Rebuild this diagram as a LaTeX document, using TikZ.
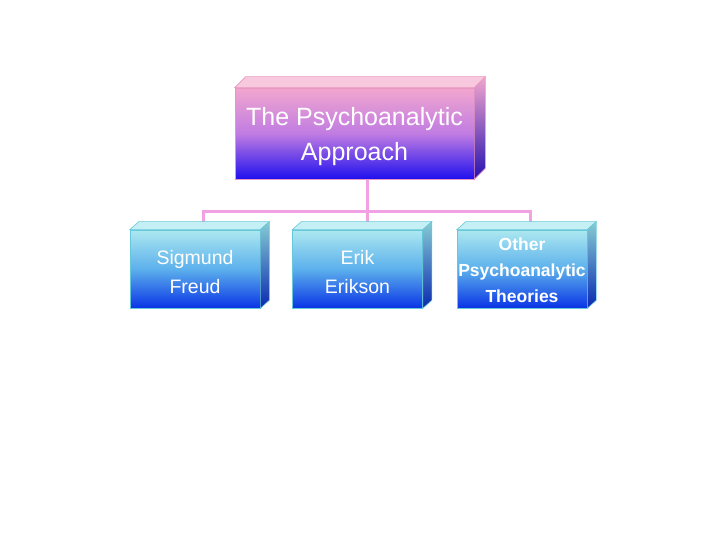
\documentclass[tikz,border=0pt]{standalone}
\usepackage{fontspec}
\setmainfont{Liberation Sans}
\usetikzlibrary{backgrounds,calc}
\definecolor{pinkT}{HTML}{F2A6CE}
\definecolor{pinkM}{HTML}{C07CE2}
\definecolor{blueB}{HTML}{2010EE}
\definecolor{pinkTop}{HTML}{F8C8DE}
\definecolor{pinkEdge}{HTML}{E898C0}
\definecolor{navy}{HTML}{2410B0}
\definecolor{cyanT}{HTML}{ACE8F0}
\definecolor{cyanM}{HTML}{5CB0EC}
\definecolor{blueC}{HTML}{0A34E6}
\definecolor{cyanTop}{HTML}{C4EFF4}
\definecolor{cyanEdge}{HTML}{66C8D8}
\definecolor{tealS}{HTML}{86CCD4}
\definecolor{navyC}{HTML}{0A28B0}
\definecolor{connC}{HTML}{F2A2E2}
\tikzset{
  mainbox/.style={draw=pinkEdge, line width=0.6pt, minimum width=239pt, minimum height=91pt,
    top color=pinkT, bottom color=blueB, middle color=pinkM, inner sep=0pt},
  subbox/.style={draw=cyanEdge, line width=0.6pt, minimum width=130pt, minimum height=78pt,
    top color=cyanT, bottom color=blueC, middle color=cyanM, inner sep=0pt},
  maintxt/.style={text=white, font=\fontsize{25}{35}\selectfont, align=center, inner sep=0pt},
  subtxt/.style={text=white, font=\fontsize{19.5}{29}\selectfont, align=center, inner sep=0pt},
  conn/.style={draw=connC, line width=3pt}
}
\begin{document}
\begin{tikzpicture}[x=1pt,y=-1pt]
\useasboundingbox (0,0) rectangle (720,540);
% main box
\node[mainbox] (apr) at (354.5,133.5) {};
\fill[pinkTop, draw=pinkEdge, line width=0.6pt] (apr.north west) -- ++(11,-11) -- ($(apr.north east)+(11,-11)$) -- (apr.north east) -- cycle;
\shade[top color=pinkT, bottom color=navy, draw=pinkEdge, line width=0.6pt] (apr.north east) -- ++(11,-11) -- ($(apr.south east)+(11,-11)$) -- (apr.south east) -- cycle;
\node[maintxt] (aprt) at ([yshift=-3.5pt]apr.center) {The Psychoanalytic\\Approach};
% sub boxes
\node[subbox] (sig) at (195,269) {};
\node[subbox] (eri) at (357.5,269) {};
\node[subbox] (oth) at (522,269) {};
\foreach \n in {sig,eri,oth}{
  \fill[cyanTop, draw=cyanEdge, line width=0.6pt] (\n.north west) -- ++(9,-8) -- ($(\n.north east)+(9,-8)$) -- (\n.north east) -- cycle;
  \shade[top color=tealS, bottom color=navyC, draw=cyanEdge, line width=0.6pt] (\n.north east) -- ++(9,-8) -- ($(\n.south east)+(9,-8)$) -- (\n.south east) -- cycle;
}
\node[subtxt] (sigt) at ([yshift=-3pt]sig.center) {Sigmund\\Freud};
\node[subtxt] (erit) at ([yshift=-3pt]eri.center) {Erik\\Erikson};
\node[subtxt, font=\bfseries\fontsize{17.5}{26}\selectfont] (otht) at ([yshift=-1pt]oth.center) {Other\\Psychoanalytic\\Theories};
% connectors
\begin{scope}[on background layer]
\coordinate (hub) at (367,212);
\draw[conn] ([xshift=12.5pt]apr.south) -- (hub);
\draw[conn] ([xshift=8pt]sig.north) |- (hub);
\draw[conn] ([xshift=8pt]oth.north) |- (hub);
\draw[conn] ([xshift=9.5pt]eri.north) -- (hub);
\end{scope}
\end{tikzpicture}
\end{document}
